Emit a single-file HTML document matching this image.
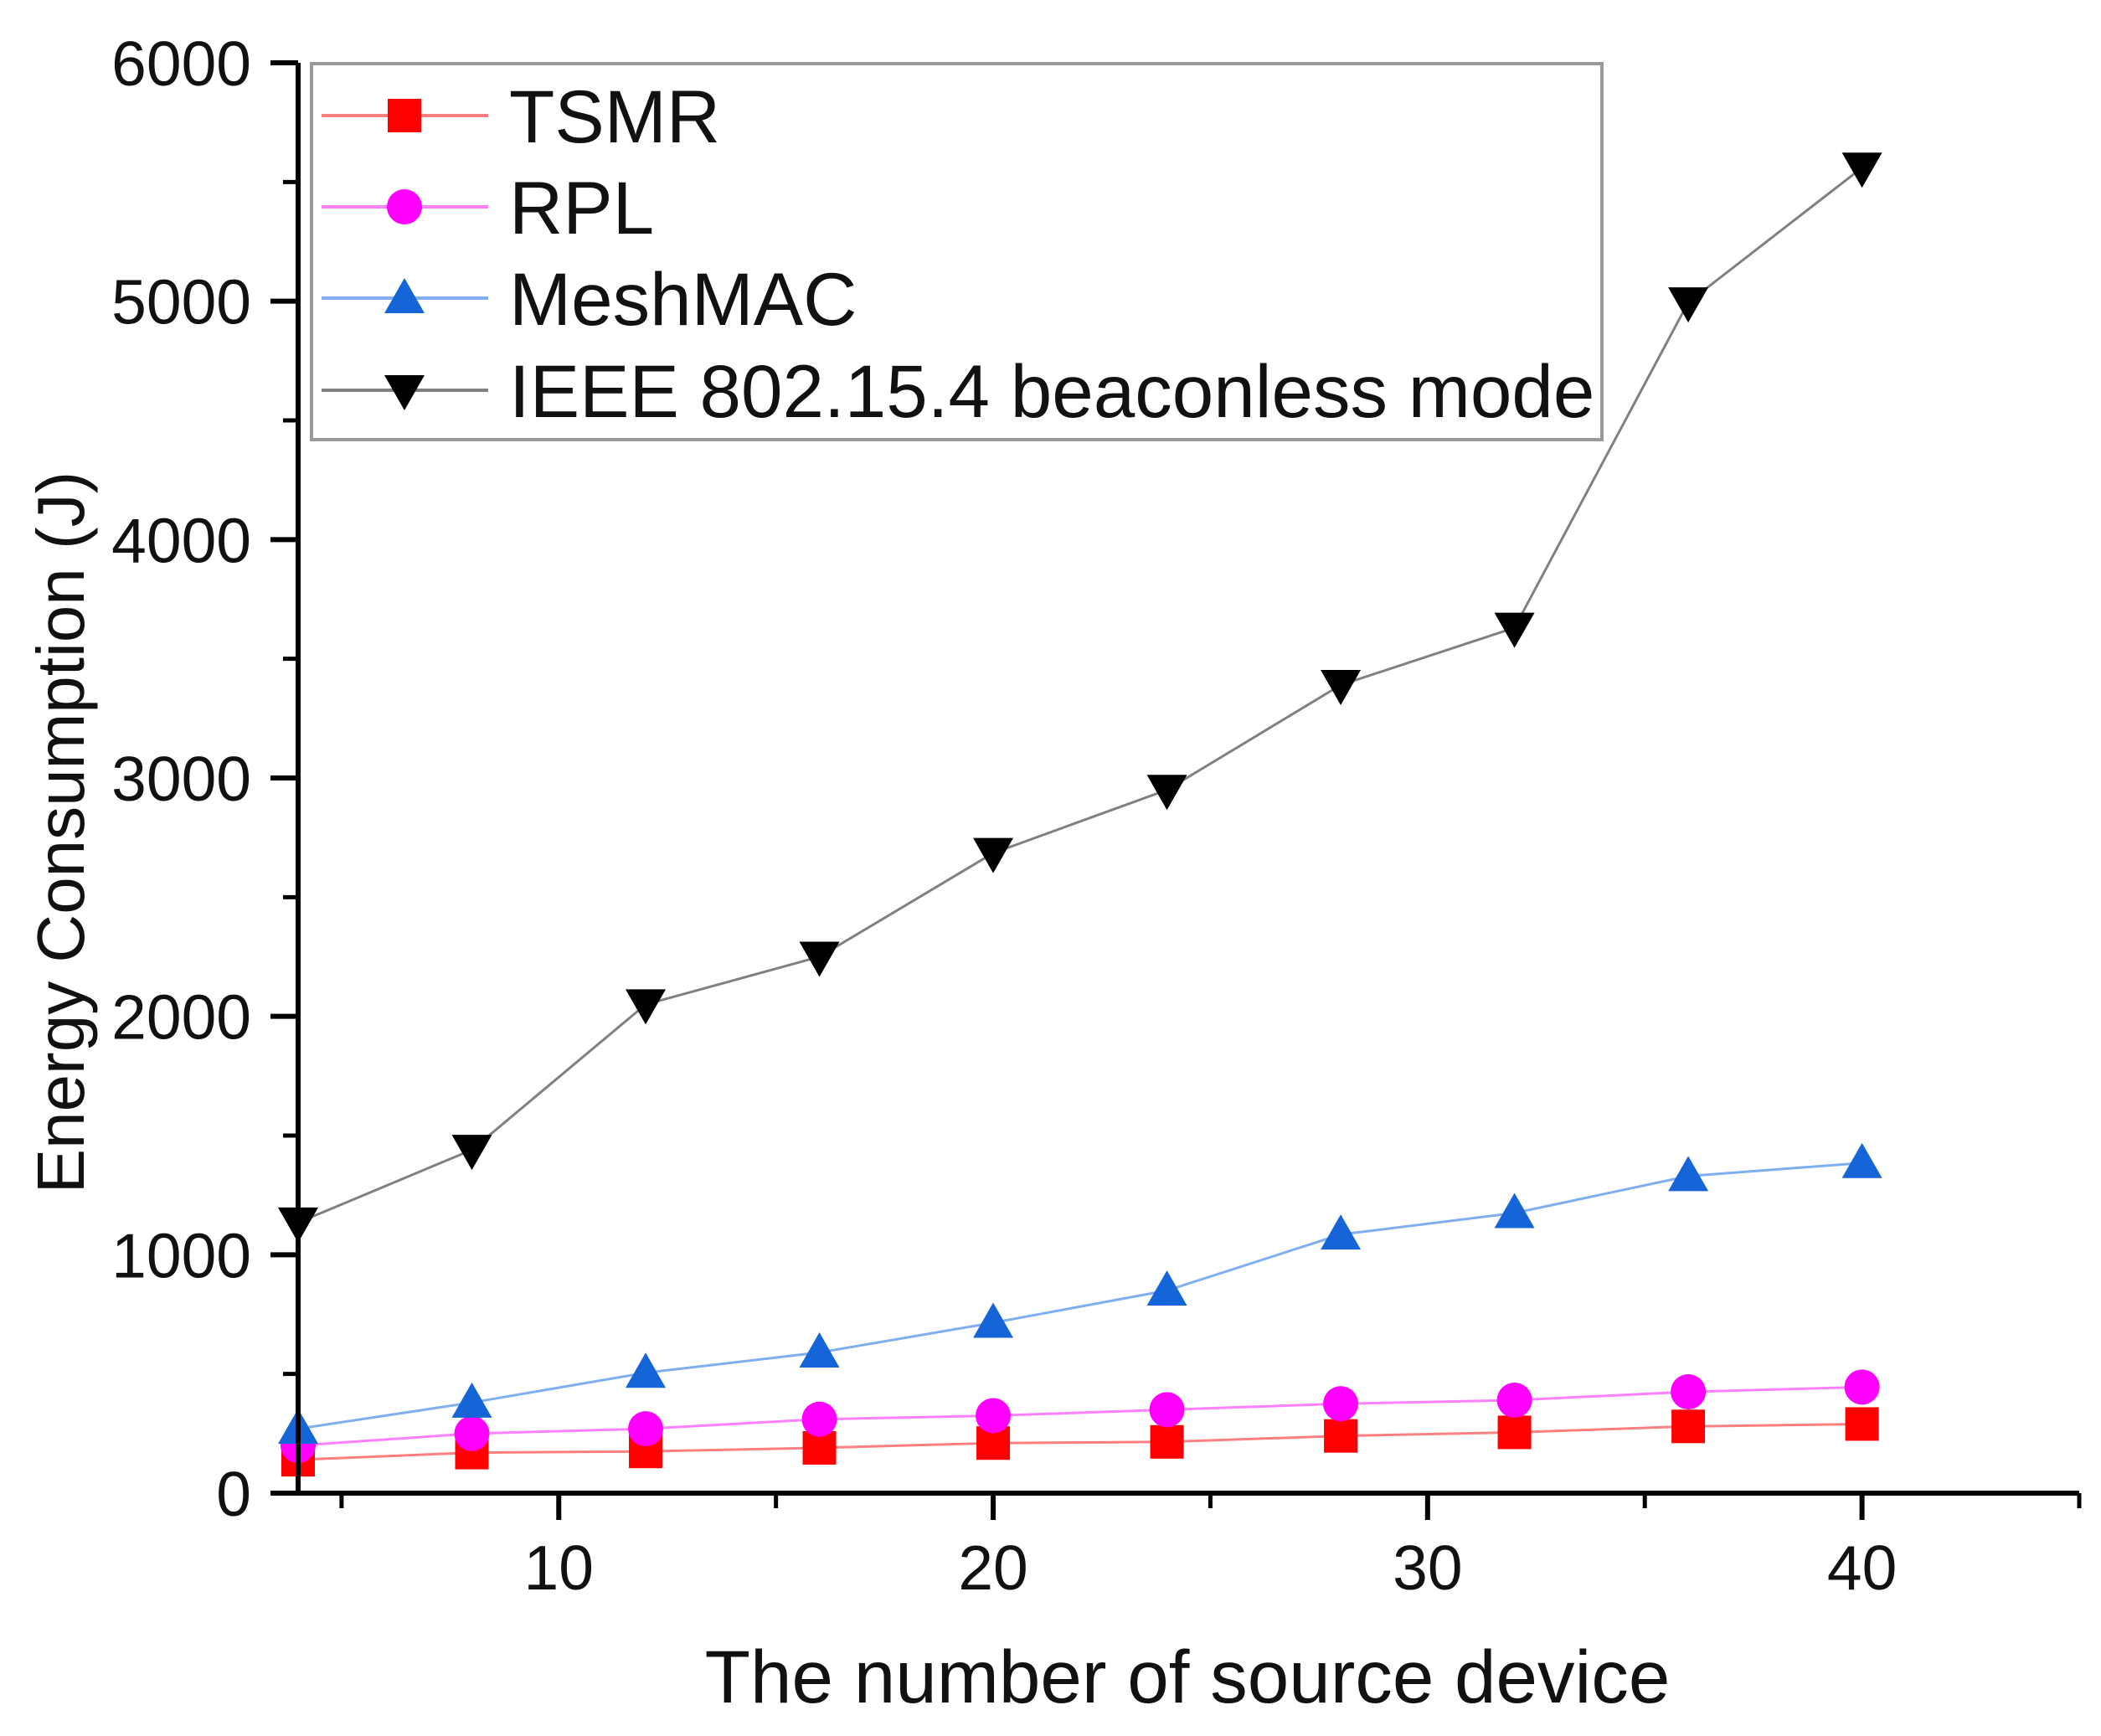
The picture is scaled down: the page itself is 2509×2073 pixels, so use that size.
<!DOCTYPE html>
<html><head><meta charset="utf-8"><style>
html,body{margin:0;padding:0;background:#fff;}
svg{display:block;font-family:"Liberation Sans",Arial,sans-serif;}
</style></head><body>
<svg id="chart" width="2509" height="2073" viewBox="0 0 2509 2073" xmlns="http://www.w3.org/2000/svg"></svg>
<script>
const categories = [4, 8, 12, 16, 20, 24, 28, 32, 36, 40];
const tsmrValues = [140, 170, 175, 190, 210, 215, 240, 255, 280, 290];
const rplValues = [200, 250, 270, 310, 325, 350, 375, 390, 425, 445];
const meshmacValues = [270, 380, 505, 590, 715, 850, 1085, 1175, 1330, 1385];
const ieeeValues = [1135, 1440, 2050, 2250, 2685, 2950, 3390, 3630, 4995, 5560];
const xTickLabels = [10, 20, 30, 40];
const xMinorTicks = [5, 15, 25, 35, 45];
const yTickLabels = [0, 1000, 2000, 3000, 4000, 5000, 6000];
const yMinorTicks = [500, 1500, 2500, 3500, 4500, 5500];
const seriesNames = ["TSMR", "RPL", "MeshMAC", "IEEE 802.15.4 beaconless mode"];

const NS = "http://www.w3.org/2000/svg";
const svg = document.getElementById("chart");
const X0 = 356, X1 = 2483, Y0 = 1783, Y1 = 75;
const xMin = 4, xMax = 45, yMin = 0, yMax = 6000;
const xs = v => X0 + (v - xMin) / (xMax - xMin) * (X1 - X0);
const ys = v => Y0 - (v - yMin) / (yMax - yMin) * (Y0 - Y1);
function mk(tag, attrs, parent) {
  const e = document.createElementNS(NS, tag);
  for (const k in attrs) e.setAttribute(k, attrs[k]);
  (parent || svg).appendChild(e);
  return e;
}
function marker(type, cx, cy, color, g) {
  let m;
  if (type === "square") m = mk("rect", {x: cx - 20, y: cy - 20, width: 40, height: 40, fill: color}, g);
  else if (type === "circle") m = mk("circle", {cx: cx, cy: cy, r: 21, fill: color}, g);
  else if (type === "up") m = mk("polygon", {points: `${cx},${cy - 24} ${cx - 24},${cy + 18} ${cx + 24},${cy + 18}`, fill: color}, g);
  else m = mk("polygon", {points: `${cx},${cy + 24} ${cx - 24},${cy - 18} ${cx + 24},${cy - 18}`, fill: color}, g);
  return m;
}
const series = [
  {name: seriesNames[0], vals: tsmrValues, line: "#ff8080", color: "#ff0000", m: "square", key: "tsmr"},
  {name: seriesNames[1], vals: rplValues, line: "#ff80ff", color: "#ff00ff", m: "circle", key: "rpl"},
  {name: seriesNames[2], vals: meshmacValues, line: "#7fafef", color: "#1565d8", m: "up", key: "meshmac"},
  {name: seriesNames[3], vals: ieeeValues, line: "#808080", color: "#000000", m: "down", key: "ieee"}
];
series.forEach(s => {
  const g = mk("g", {});
  
  
  const pl = mk("polyline", {points: categories.map((c, i) => xs(c) + "," + ys(s.vals[i])).join(" "), fill: "none", stroke: s.line, "stroke-width": 3}, g);
  
  
  categories.forEach((c, i) => {
    const m = marker(s.m, xs(c), ys(s.vals[i]), s.color, g);
    
    
  });
});
const ax = mk("path", {d: `M${X0},${Y1} L${X0},${Y0} L${X1},${Y0}`, fill: "none", stroke: "#000", "stroke-width": 6});


yTickLabels.forEach(v => {
  const t = mk("line", {x1: X0 - 33, x2: X0, y1: ys(v), y2: ys(v), stroke: "#000", "stroke-width": 6});
  
  
  const l = mk("text", {x: 300, y: ys(v) + 27, "text-anchor": "end", "font-size": 75, fill: "#111"});
  l.textContent = v;
  
  
});
yMinorTicks.forEach(v => {
  const t = mk("line", {x1: X0 - 18, x2: X0, y1: ys(v), y2: ys(v), stroke: "#000", "stroke-width": 5});
  
  
});
xTickLabels.forEach(v => {
  const t = mk("line", {x1: xs(v), x2: xs(v), y1: Y0, y2: Y0 + 32, stroke: "#000", "stroke-width": 6});
  
  
  const l = mk("text", {x: xs(v), y: 1898, "text-anchor": "middle", "font-size": 75, fill: "#111"});
  l.textContent = v;
  
  
});
xMinorTicks.forEach(v => {
  const t = mk("line", {x1: xs(v), x2: xs(v), y1: Y0, y2: Y0 + 18, stroke: "#000", "stroke-width": 5});
  
  
});
const xt = mk("text", {x: 1418, y: 2033, "text-anchor": "middle", "font-size": 89, fill: "#111"});
xt.textContent = "The number of source device";


const yt = mk("text", {x: 0, y: 0, "text-anchor": "middle", "font-size": 80, fill: "#111", transform: "translate(100,994) rotate(-90)"});
yt.textContent = "Energy Consumption (J)";


const lg = mk("g", {});


const box = mk("rect", {x: 372, y: 76, width: 1541, height: 449, fill: "#fff", stroke: "#999", "stroke-width": 4}, lg);


const rowsY = [138, 247, 356, 466];
series.forEach((s, i) => {
  const y = rowsY[i];
  const e = mk("g", {}, lg);
  
  
  mk("line", {x1: 384, x2: 583, y1: y, y2: y, stroke: s.line, "stroke-width": 4}, e);
  marker(s.m, 483, y, s.color, e);
  const t = mk("text", {x: 608, y: y + 32, "font-size": 89, fill: "#111"}, e);
  t.textContent = s.name;
});
</script>
</body></html>
